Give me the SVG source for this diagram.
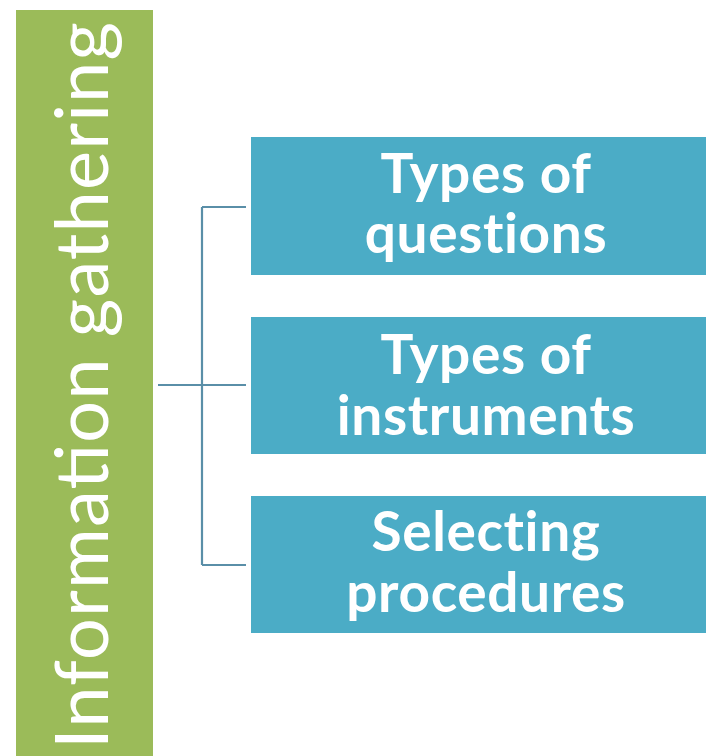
<svg xmlns="http://www.w3.org/2000/svg" width="706" height="756" viewBox="0 0 706 756">
<style>
.box{fill:#4bacc6}
.lbl{font-family:Lato,"Open Sans","Liberation Sans",sans-serif;font-weight:bold;font-size:55px;fill:#ffffff;text-anchor:middle;letter-spacing:0.6px}
.conn{stroke:#5a8fa8;stroke-width:2.2;fill:none}
.title{font-family:Lato,"Open Sans","Liberation Sans",sans-serif;font-size:74px;fill:#ffffff}
</style>
<rect x="0" y="0" width="706" height="756" fill="#ffffff"/>
<g id="root">
<rect x="16" y="10" width="137" height="750" fill="#9bbb59"/>
<text class="title" transform="translate(108,749) rotate(-90)" x="0" y="0" textLength="727">Information gathering</text>
</g>
<g id="connectors">
<path class="conn" d="M158,385 H202 M202,207 V565 M202,207 H246 M202,385 H246 M202,565 H246"/>
</g>
<g id="n1">
<rect class="box" x="251" y="137" width="470" height="138"/>
<text class="lbl" x="486" y="193">Types of</text>
<text class="lbl" x="486" y="253">questions</text>
</g>
<g id="n2">
<rect class="box" x="251" y="317" width="470" height="137"/>
<text class="lbl" x="486" y="374">Types of</text>
<text class="lbl" x="486" y="435">instruments</text>
</g>
<g id="n3">
<rect class="box" x="251" y="496" width="470" height="137"/>
<text class="lbl" x="486" y="551">Selecting</text>
<text class="lbl" x="486" y="612">procedures</text>
</g>
</svg>
